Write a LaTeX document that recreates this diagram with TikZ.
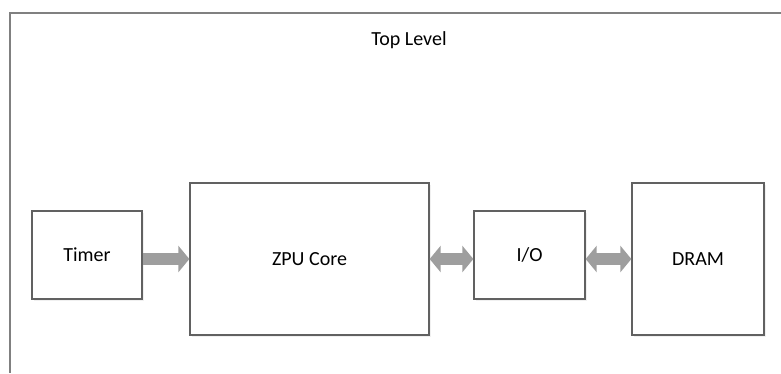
\documentclass[tikz,border=0pt]{standalone}
\usepackage{fontspec}
\setmainfont{Carlito}
\usetikzlibrary{arrows.meta,shadows}

\begin{document}
\begin{tikzpicture}[x=1pt,y=-1pt,
  block/.style={draw=black!62,line width=1.3pt,fill=white,
    drop shadow={opacity=0.12,shadow xshift=1.5pt,shadow yshift=-1.5pt},
    inner sep=0pt,font=\fontsize{20}{22}\selectfont},
  fatarrow/.style={line width=12.5pt,black!38},
  fattip/.tip={Triangle[length=11pt,width=26pt]}]
  \useasboundingbox (0,0) rectangle (781,373);
  \draw[black!50,line width=2pt] (781,13) -- (10,13) -- (10,373);
  \node[font=\fontsize{20}{22}\selectfont] (title) at (409,40){Top Level};
  \node[block,minimum width=110pt,minimum height=88pt] (timer) at (87,255){Timer};
  \node[block,minimum width=239pt,minimum height=152pt] (zpu) at (309.5,259){ZPU Core};
  \node[block,minimum width=111pt,minimum height=88pt] (io) at (529.5,255){I/O};
  \node[block,minimum width=132pt,minimum height=152pt] (dram) at (698,259){DRAM};
  \draw[fatarrow,-fattip] (timer.east |- zpu.west) -- (zpu.west);
  \draw[fatarrow,fattip-fattip] (zpu.east) -- (io.west |- zpu.east);
  \draw[fatarrow,fattip-fattip] (io.east |- dram.west) -- (dram.west);
\end{tikzpicture}
\end{document}
